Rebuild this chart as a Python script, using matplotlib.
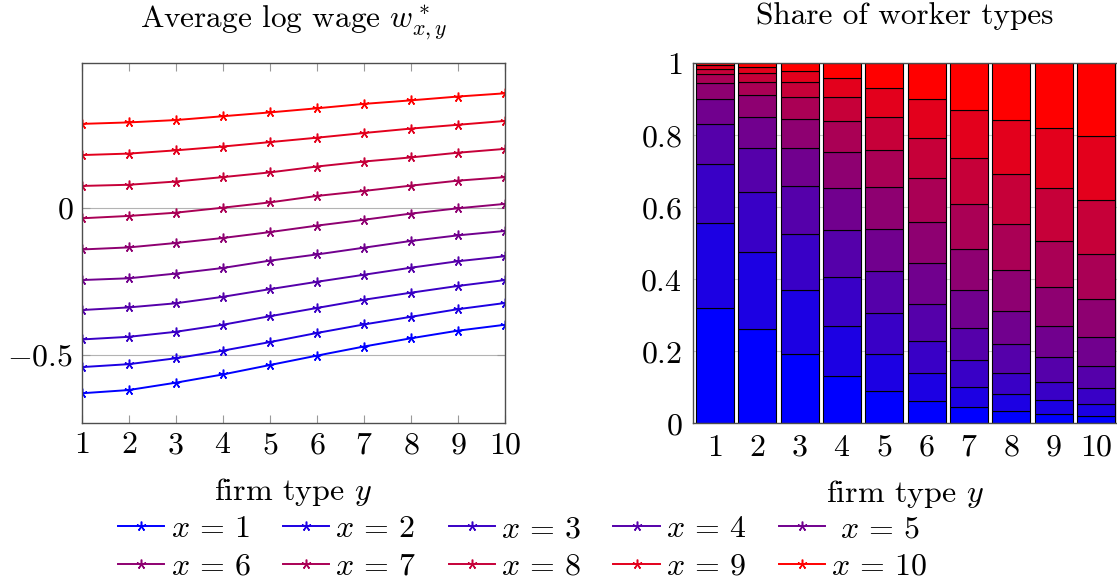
import numpy as np
import matplotlib
matplotlib.use("Agg")
import matplotlib.pyplot as plt

plt.rcParams["font.family"] = "serif"
plt.rcParams["font.serif"] = ["cmr10", "DejaVu Serif"]
plt.rcParams["mathtext.fontset"] = "cm"
plt.rcParams["axes.unicode_minus"] = False
plt.rcParams["font.size"] = 23
plt.rcParams["axes.titlesize"] = 22.5

# firm types (x axis) and worker types (series)
firm_types = [1, 2, 3, 4, 5, 6, 7, 8, 9, 10]
worker_types = [1, 2, 3, 4, 5, 6, 7, 8, 9, 10]

# average log wage w*_{x,y}, one list per worker type x
wage_x1 = [-0.630, -0.619, -0.594, -0.566, -0.534, -0.502, -0.471, -0.443, -0.417, -0.397]
wage_x2 = [-0.541, -0.531, -0.511, -0.485, -0.456, -0.425, -0.396, -0.370, -0.344, -0.323]
wage_x3 = [-0.447, -0.438, -0.421, -0.397, -0.368, -0.340, -0.312, -0.288, -0.265, -0.245]
wage_x4 = [-0.347, -0.338, -0.324, -0.302, -0.276, -0.251, -0.227, -0.203, -0.181, -0.164]
wage_x5 = [-0.245, -0.239, -0.223, -0.204, -0.179, -0.158, -0.135, -0.112, -0.093, -0.078]
wage_x6 = [-0.141, -0.134, -0.119, -0.102, -0.082, -0.060, -0.040, -0.019, -0.001, 0.014]
wage_x7 = [-0.035, -0.027, -0.016, 0.001, 0.019, 0.041, 0.058, 0.076, 0.093, 0.105]
wage_x8 = [0.075, 0.079, 0.090, 0.105, 0.121, 0.141, 0.158, 0.172, 0.188, 0.201]
wage_x9 = [0.180, 0.185, 0.196, 0.209, 0.224, 0.239, 0.255, 0.270, 0.283, 0.296]
wage_x10 = [0.286, 0.291, 0.299, 0.312, 0.325, 0.339, 0.354, 0.366, 0.379, 0.390]
wages = [wage_x1, wage_x2, wage_x3, wage_x4, wage_x5,
         wage_x6, wage_x7, wage_x8, wage_x9, wage_x10]

# share of worker type x within firm type y, one list per firm type y
share_y1 = [0.319, 0.236, 0.164, 0.112, 0.069, 0.044, 0.026, 0.015, 0.009, 0.006]
share_y2 = [0.261, 0.214, 0.167, 0.124, 0.086, 0.059, 0.038, 0.025, 0.017, 0.009]
share_y3 = [0.192, 0.177, 0.158, 0.131, 0.106, 0.081, 0.061, 0.042, 0.032, 0.020]
share_y4 = [0.131, 0.138, 0.136, 0.131, 0.117, 0.102, 0.084, 0.067, 0.053, 0.041]
share_y5 = [0.089, 0.103, 0.113, 0.118, 0.118, 0.114, 0.103, 0.093, 0.080, 0.069]
share_y6 = [0.061, 0.078, 0.090, 0.102, 0.113, 0.116, 0.120, 0.112, 0.108, 0.100]
share_y7 = [0.044, 0.058, 0.074, 0.090, 0.103, 0.115, 0.124, 0.130, 0.131, 0.131]
share_y8 = [0.033, 0.047, 0.061, 0.078, 0.094, 0.112, 0.128, 0.139, 0.150, 0.158]
share_y9 = [0.026, 0.038, 0.052, 0.067, 0.088, 0.107, 0.128, 0.147, 0.166, 0.181]
share_y10 = [0.021, 0.032, 0.045, 0.062, 0.081, 0.103, 0.126, 0.151, 0.178, 0.201]
shares = np.array([share_y1, share_y2, share_y3, share_y4, share_y5,
                   share_y6, share_y7, share_y8, share_y9, share_y10])

left_yticks = [-0.5, 0]
left_yticklabels = ["$-0.5$", "$0$"]
right_yticks = [0, 0.2, 0.4, 0.6, 0.8, 1]
right_yticklabels = ["$0$", "$0.2$", "$0.4$", "$0.6$", "$0.8$", "$1$"]
legend_labels = [r"$x\,=\,1$", r"$x\,=\,2$", r"$x\,=\,3$", r"$x\,=\,4$", r"$\ x\,=\,5$",
                 r"$x\,=\,6$", r"$x\,=\,7$", r"$x\,=\,8$", r"$x\,=\,9$", r"$x\,=\,10$"]


def mix_color(k):
    t = (k - 1) / 9.0
    return (t, 0.0, 1.0 - t)


star = (5, 2, 0)
spine_col = "0.3"
tick_col = "0.6"

fig = plt.figure(figsize=(11.17, 5.84), dpi=100)
ax1 = fig.add_axes([0.0731, 0.2752, 0.3790, 0.6164])
ax2 = fig.add_axes([0.6207, 0.2752, 0.3790, 0.6164])

# left: average log wage
handles = []
for k, w in zip(worker_types, wages):
    (h,) = ax1.plot(firm_types, w, color=mix_color(k), lw=1.4,
                    marker=star, markersize=7, markeredgewidth=1.1)
    handles.append(h)

ax1.set_xlim(1, 10)
ax1.set_ylim(-0.732, 0.492)
ax1.set_xticks(firm_types)
ax1.set_xticklabels([f"${v}$" for v in firm_types])
ax1.set_yticks(left_yticks)
ax1.set_yticklabels(left_yticklabels)
ax1.yaxis.grid(True, color="0.7", lw=0.8)
ax1.set_axisbelow(True)
ax1.tick_params(direction="in", top=True, right=True, color=tick_col,
                length=6, width=0.8, pad=6)
ax1.set_title(r"Average log wage $w^*_{x,y}$", pad=26)
ax1.set_xlabel(r"firm type $y$", labelpad=12)

# right: stacked shares
bottoms = np.zeros(len(firm_types))
for i, k in enumerate(worker_types):
    ax2.bar(firm_types, shares[:, i], bottom=bottoms, width=0.9,
            color=mix_color(k), edgecolor="black", lw=0.8, zorder=2)
    bottoms += shares[:, i]

ax2.set_xlim(0.49, 10.49)
ax2.set_ylim(0, 1)
ax2.set_xticks(firm_types)
ax2.set_xticklabels([f"${v}$" for v in firm_types])
ax2.set_yticks(right_yticks)
ax2.set_yticklabels(right_yticklabels)
ax2.yaxis.grid(True, color="0.8", lw=0.8, zorder=0)
ax2.set_axisbelow(True)
ax2.tick_params(direction="in", color=tick_col, length=0, pad=8)
ax2.set_title("Share of worker types", pad=28)
ax2.set_xlabel(r"firm type $y$", labelpad=12)

for ax in (ax1, ax2):
    for s in ax.spines.values():
        s.set_color(spine_col)
        s.set_linewidth(1.0)

order = [0, 5, 1, 6, 2, 7, 3, 8, 4, 9]
fig.legend([handles[i] for i in order], [legend_labels[i] for i in order],
           ncol=5, loc="center", bbox_to_anchor=(0.468, 0.062),
           frameon=False, handlelength=1.45, handletextpad=0.2,
           columnspacing=1.0, labelspacing=0.3, borderpad=0.1)

fig.savefig("out.png", dpi=100)
